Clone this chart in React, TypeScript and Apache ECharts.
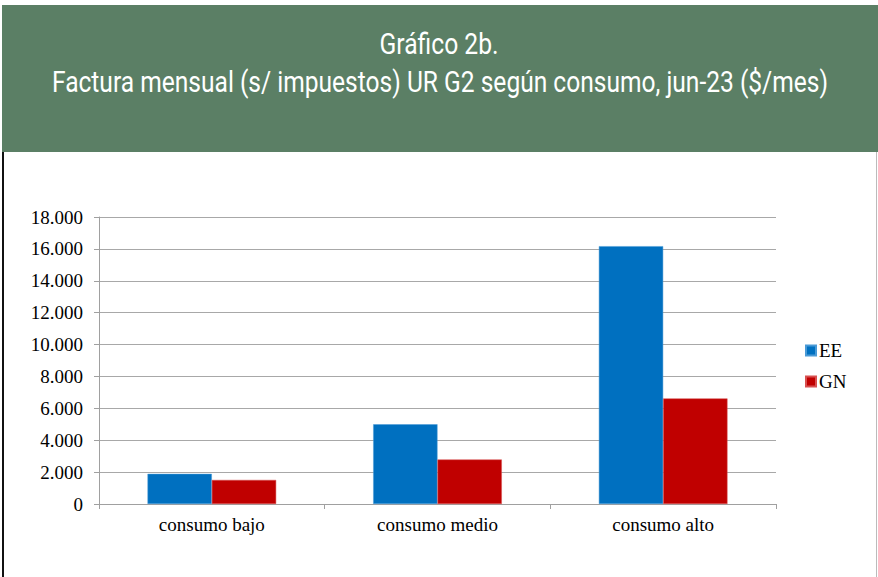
import React, { useEffect, useRef } from "react";
import * as echarts from "echarts";

const categories = ["consumo bajo", "consumo medio", "consumo alto"];
const seriesNames = ["EE", "GN"];
const eeValues = [1890, 5000, 16170];
const gnValues = [1510, 2790, 6620];
const yMax = 18000;
const yInterval = 2000;
const titleLine1 = "Gráfico 2b.";
const titleLine2 = "Factura mensual (s/ impuestos) UR G2 según consumo, jun-23 ($/mes)";

const W = 878;
const H = 577;
const titleFont = "Roboto";
const titleSize = 30;

function measure(text: string, font: string): number {
  const c = document.createElement("canvas");
  const ctx = c.getContext("2d");
  if (!ctx) return 1;
  ctx.font = font;
  return ctx.measureText(text).width;
}

function fmt(v: number): string {
  return String(Math.round(v)).replace(/\B(?=(\d{3})+(?!\d))/g, ".");
}

export default function App() {
  const ref = useRef<HTMLDivElement>(null);
  useEffect(() => {
    document.body.style.margin = "0";
    if (!ref.current) return;
    const chart = echarts.init(ref.current, null, { renderer: "svg" });
    const f = `${titleSize}px ${titleFont}`;
    const w1 = measure(titleLine1, f);
    const w2 = measure(titleLine2, f);
    const s1 = 119 / w1;
    const s2 = 776 / w2;
    const serif = "'Liberation Serif', 'Times New Roman', serif";
    chart.setOption({
      animation: false,
      backgroundColor: "#ffffff",
      graphic: [
        { type: "rect", shape: { x: 2, y: 5, width: W - 2, height: 147 }, style: { fill: "#5b7f65" }, z: -10 },
        { type: "line", shape: { x1: 3, y1: 152, x2: 3, y2: H }, style: { stroke: "#111", lineWidth: 2 } },
        { type: "line", shape: { x1: 876.5, y1: 152, x2: 876.5, y2: H }, style: { stroke: "#bbbbbb", lineWidth: 1 } },
        {
          type: "text", x: 439, y: 44, scaleX: s1,
          style: { text: titleLine1, fill: "#ffffff", font: f, align: "center", verticalAlign: "middle" },
        },
        {
          type: "text", x: 440, y: 82, scaleX: s2,
          style: { text: titleLine2, fill: "#ffffff", font: f, align: "center", verticalAlign: "middle" },
        },
      ],
      grid: { left: 99, right: W - 776, top: 217, bottom: H - 504, containLabel: false },
      legend: {
        orient: "vertical",
        left: 800,
        top: 336,
        itemWidth: 10,
        itemHeight: 10,
        itemGap: 12,
        icon: "rect",
        textStyle: { fontFamily: serif, fontSize: 19, color: "#000", padding: [0, 0, 0, -2] },
        data: seriesNames,
      },
      xAxis: {
        type: "category",
        data: categories,
        axisLine: { lineStyle: { color: "#a0a0a0", width: 1 } },
        axisTick: { show: true, alignWithLabel: false, length: 5, lineStyle: { color: "#a0a0a0" } },
        axisLabel: { fontFamily: serif, fontSize: 19, color: "#000", margin: 11 },
      },
      yAxis: {
        type: "value",
        min: 0,
        max: yMax,
        interval: yInterval,
        axisLine: { show: true, lineStyle: { color: "#a0a0a0", width: 1 } },
        axisTick: { show: true, length: 5, lineStyle: { color: "#a0a0a0" } },
        splitLine: { lineStyle: { color: "#a8a8a8", width: 1 } },
        axisLabel: { fontFamily: serif, fontSize: 19, color: "#000", margin: 16, formatter: (v: number) => fmt(v) },
      },
      series: [
        {
          name: seriesNames[0], type: "bar", data: eeValues, barGap: "0%", barCategoryGap: "43%",
          itemStyle: { color: "#0070c0", borderColor: "#4a9ad6", borderWidth: 0.5 },
        },
        {
          name: seriesNames[1], type: "bar", data: gnValues, barGap: "0%", barCategoryGap: "43%",
          itemStyle: { color: "#c00000", borderColor: "#d85050", borderWidth: 0.5 },
        },
      ],
    });
    return () => chart.dispose();
  }, []);
  return <div ref={ref} style={{ width: W, height: H }} />;
}
